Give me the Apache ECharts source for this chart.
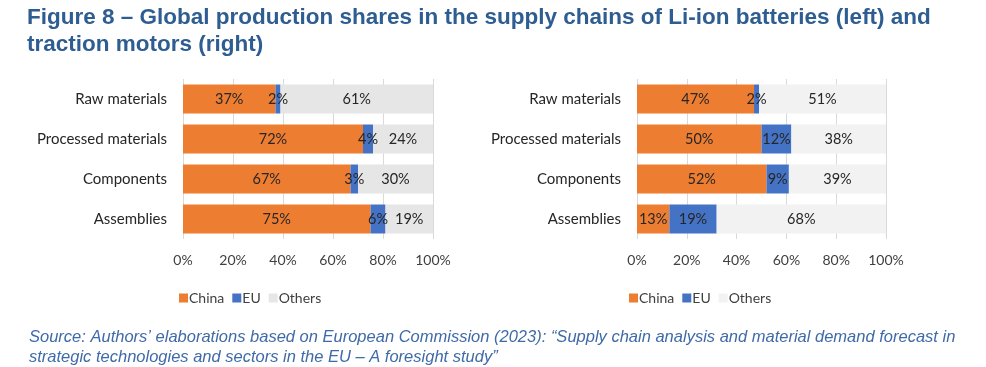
<!DOCTYPE html>
<html><head><meta charset="utf-8">
<script src="https://cdn.jsdelivr.net/npm/echarts@6/dist/echarts.min.js"></script>
<style>html,body{margin:0;padding:0;background:#fff;}#c{width:986px;height:367px;}</style>
</head><body><div id="c"></div>
<script>
const categories = ['Raw materials', 'Processed materials', 'Components', 'Assemblies'];
const batteryChina = [37, 72, 67, 75];
const batteryEU = [2, 4, 3, 6];
const batteryOthers = [61, 24, 30, 19];
const motorChina = [47, 50, 52, 13];
const motorEU = [2, 12, 9, 19];
const motorOthers = [51, 38, 39, 68];
const tickValues = [0, 20, 40, 60, 80, 100];

const colChina = '#ED7D31', colEU = '#4472C4', colOthL = '#E7E6E6', colOthR = '#F2F2F2';
const fontCat = 'Lato, "Open Sans", sans-serif';

function xAx(i) {
  return {
    type: 'value', gridIndex: i, min: tickValues[0], max: tickValues[tickValues.length - 1], interval: 20,
    axisLine: { show: false }, axisTick: { show: false },
    splitLine: { show: true, lineStyle: { color: '#D9D9D9', width: 1 } },
    axisLabel: { formatter: '{value}%', color: '#404040', fontFamily: fontCat, fontSize: 14, margin: 14 }
  };
}
function yAx(i) {
  return {
    type: 'category', gridIndex: i, data: categories, inverse: true,
    axisLine: { show: false }, axisTick: { show: false },
    axisLabel: { color: '#262626', fontFamily: fontCat, fontSize: 15, margin: 16 }
  };
}
function ser(name, data, color, i) {
  return {
    name: name, type: 'bar', stack: 's' + i, xAxisIndex: i, yAxisIndex: i, data: data,
    barWidth: 29, itemStyle: { color: color },
    label: { show: true, position: 'inside', formatter: '{c}%', color: '#262626', fontFamily: fontCat, fontSize: 14.5 },
    emphasis: { disabled: true }
  };
}
const legendBase = {
  itemWidth: 9, itemHeight: 9, itemGap: 8, icon: 'rect', top: 286,
  textStyle: { color: '#404040', fontFamily: fontCat, fontSize: 14, padding: [0, 0, 0, -4] }
};

const chart = echarts.init(document.getElementById('c'), null, { renderer: 'canvas' });
chart.setOption({
  animation: false,
  backgroundColor: '#fff',
  title: [
    { text: 'Figure 8 – Global production shares in the supply chains of Li-ion batteries (left) and\ntraction motors (right)',
      left: 22, top: -1,
      textStyle: { color: '#2E5D92', fontFamily: '"Liberation Sans", Arial, sans-serif', fontWeight: 'bold', fontSize: 22.5, lineHeight: 27 } },
    { text: 'Source: Authors’ elaborations based on European Commission (2023): “Supply chain analysis and material demand forecast in\nstrategic technologies and sectors in the EU – A foresight study”',
      left: 24, top: 322,
      textStyle: { color: '#3F6AA8', fontFamily: '"Liberation Sans", Arial, sans-serif', fontStyle: 'italic', fontWeight: 'normal', fontSize: 16.5, lineHeight: 20 } }
  ],
  legend: [
    Object.assign({}, legendBase, { left: 174, data: [
      { name: 'China', itemStyle: { color: colChina } }, { name: 'EU', itemStyle: { color: colEU } }, { name: 'Others', itemStyle: { color: colOthL } }] }),
    Object.assign({}, legendBase, { left: 624, data: [
      { name: 'China', itemStyle: { color: colChina } }, { name: 'EU', itemStyle: { color: colEU } }, { name: 'Others', itemStyle: { color: colOthR } }] })
  ],
  grid: [
    { left: 183, top: 79, width: 250, height: 160 },
    { left: 637, top: 79, width: 249, height: 160 }
  ],
  xAxis: [xAx(0), xAx(1)],
  yAxis: [yAx(0), yAx(1)],
  series: [
    ser('China', batteryChina, colChina, 0), ser('EU', batteryEU, colEU, 0), ser('Others', batteryOthers, colOthL, 0),
    ser('China', motorChina, colChina, 1), ser('EU', motorEU, colEU, 1), ser('Others', motorOthers, colOthR, 1)
  ]
});
</script></body></html>
